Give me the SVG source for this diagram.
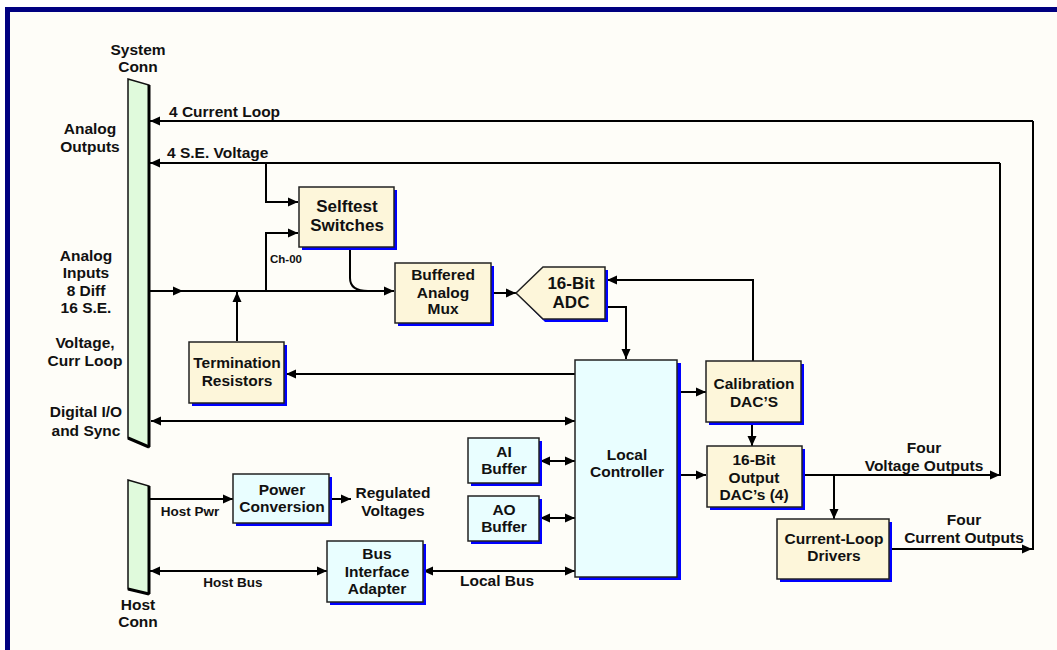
<svg xmlns="http://www.w3.org/2000/svg" width="1057" height="650" viewBox="0 0 1057 650">
<style>
text{font-family:"Liberation Sans",Arial,Helvetica,sans-serif;font-weight:bold;fill:#111;text-anchor:middle}
.t{font-size:15.5px}
.s{font-size:13.5px}
.xs{font-size:11.5px}
.l{font-size:17px}
.st{text-anchor:start}
.c{stroke:#000;stroke-width:2;fill:none}
.cream{fill:#FDF6DA;stroke:#222;stroke-width:1.5}
.cyan{fill:#E9FEFF;stroke:#222;stroke-width:1.5}
.green{fill:#E0FADC;stroke:#111;stroke-width:1.5}
.sh{fill:#0000FF}
</style>
<defs>
<marker id="a" markerUnits="userSpaceOnUse" markerWidth="10" markerHeight="10" refX="10" refY="5" orient="auto-start-reverse" viewBox="0 0 10 10">
<path d="M0,0.5 L10,5 L0,9.5 z" fill="#000"/>
</marker>
</defs>
<rect x="0" y="0" width="1057" height="650" fill="#FFFFFF"/>
<rect x="7.5" y="9.5" width="1200" height="800" fill="#FEFDF8" stroke="#000080" stroke-width="5"/>

<g id="connectors">
<path class="c" d="M1033,121 H150" marker-end="url(#a)"/>
<path class="c" d="M1000,163 H150" marker-end="url(#a)"/>
<path class="c" d="M266,163 V202 H298" marker-end="url(#a)"/>
<path class="c" d="M266,291 V233 H298" marker-end="url(#a)"/>
<path class="c" d="M149,291 H394" marker-end="url(#a)"/>
<polygon points="173,286.5 183,291 173,295.5" fill="#000"/>
<path class="c" d="M350,247 V278 Q350,291 368,291"/>
<path class="c" d="M237,341 V292" marker-end="url(#a)"/>
<path class="c" d="M491,293 H516" marker-end="url(#a)"/>
<path class="c" d="M606,307 H626 V359" marker-end="url(#a)"/>
<path class="c" d="M753,361 V280 H607" marker-end="url(#a)"/>
<path class="c" d="M575,374 H286" marker-end="url(#a)"/>
<path class="c" d="M151,421 H575" marker-start="url(#a)" marker-end="url(#a)"/>
<path class="c" d="M677,392 H706" marker-end="url(#a)"/>
<path class="c" d="M752,422 V446" marker-end="url(#a)"/>
<path class="c" d="M677,475 H706" marker-end="url(#a)"/>
<path class="c" d="M802,475 H1000 V163"/>
<path class="c" d="M990,475 H1000" marker-end="url(#a)"/>
<path class="c" d="M834,475 V519" marker-end="url(#a)"/>
<path class="c" d="M889,549 H1033 V121"/>
<path class="c" d="M1020,549 H1032" marker-end="url(#a)"/>
<path class="c" d="M540,461 H575" marker-start="url(#a)" marker-end="url(#a)"/>
<path class="c" d="M540,518 H575" marker-start="url(#a)" marker-end="url(#a)"/>
<path class="c" d="M149,499 H233" marker-end="url(#a)"/>
<path class="c" d="M329,499 H351" marker-end="url(#a)"/>
<path class="c" d="M150,571 H327" marker-start="url(#a)" marker-end="url(#a)"/>
<path class="c" d="M423,571 H575" marker-start="url(#a)" marker-end="url(#a)"/>
</g>

<g id="system-conn">
<polygon points="128,79 149,85 149,447 128,438" class="green"/>
<line x1="149" y1="85" x2="149" y2="447" stroke="#000" stroke-width="3"/>
<line x1="128" y1="438" x2="149" y2="447" stroke="#000" stroke-width="3"/>
<text class="t" x="138" y="55">System</text>
<text class="t" x="138" y="72">Conn</text>
</g>

<g id="host-conn">
<polygon points="128,480 149,486 149,594 128,589" class="green"/>
<line x1="149" y1="486" x2="149" y2="594" stroke="#000" stroke-width="3"/>
<line x1="128" y1="589" x2="149" y2="594" stroke="#000" stroke-width="3"/>
<text class="t" x="138" y="610">Host</text>
<text class="t" x="138" y="627">Conn</text>
</g>

<g id="side-labels">
<text class="t" x="90" y="134">Analog</text>
<text class="t" x="90" y="152">Outputs</text>
<text class="t" x="86" y="261">Analog</text>
<text class="t" x="86" y="278">Inputs</text>
<text class="t" x="86" y="296">8 Diff</text>
<text class="t" x="86" y="313">16 S.E.</text>
<text class="t" x="85" y="348">Voltage,</text>
<text class="t" x="85" y="366">Curr Loop</text>
<text class="t" x="86" y="417">Digital I/O</text>
<text class="t" x="86" y="436">and Sync</text>
</g>

<g id="conn-labels">
<text class="t st" x="169" y="117">4 Current Loop</text>
<text class="t st" x="167" y="158">4 S.E. Voltage</text>
<text class="xs st" x="270" y="263">Ch-00</text>
<text class="s" x="190" y="516">Host Pwr</text>
<text class="t" x="393" y="498">Regulated</text>
<text class="t" x="393" y="516">Voltages</text>
<text class="s" x="233" y="587">Host Bus</text>
<text class="t" x="497" y="586">Local Bus</text>
<text class="t" x="924" y="453">Four</text>
<text class="t" x="924" y="471">Voltage Outputs</text>
<text class="t" x="964" y="525">Four</text>
<text class="t" x="964" y="543">Current Outputs</text>
</g>

<g id="selftest">
<rect class="sh" x="302" y="190" width="95" height="60"/>
<rect class="cream" x="299" y="187" width="95" height="60"/>
<text class="l" x="347" y="212">Selftest</text>
<text class="l" x="347" y="231">Switches</text>
</g>

<g id="mux">
<rect class="sh" x="398" y="266" width="96" height="60"/>
<rect class="cream" x="395" y="263" width="96" height="60"/>
<text class="t" x="443" y="280">Buffered</text>
<text class="t" x="443" y="298">Analog</text>
<text class="t" x="443" y="314">Mux</text>
</g>

<g id="adc">
<polygon class="sh" points="519,296 545,270 608,270 608,322 545,322"/>
<polygon class="cream" points="516,293 543,267 605,267 605,319 543,319"/>
<text class="l" x="571" y="289">16-Bit</text>
<text class="l" x="571" y="308">ADC</text>
</g>

<g id="termination">
<rect class="sh" x="192" y="345" width="95" height="61"/>
<rect class="cream" x="189" y="342" width="95" height="61"/>
<text class="t" x="237" y="368">Termination</text>
<text class="t" x="237" y="386">Resistors</text>
</g>

<g id="controller">
<rect class="sh" x="579" y="363" width="102" height="217"/>
<rect class="cyan" x="575" y="360" width="102" height="217"/>
<text class="t" x="627" y="460">Local</text>
<text class="t" x="627" y="477">Controller</text>
</g>

<g id="ai-buffer">
<rect class="sh" x="471" y="441" width="71" height="45"/>
<rect class="cyan" x="468" y="438" width="71" height="45"/>
<text class="t" x="504" y="457">AI</text>
<text class="t" x="504" y="474">Buffer</text>
</g>

<g id="ao-buffer">
<rect class="sh" x="471" y="499" width="71" height="45"/>
<rect class="cyan" x="468" y="496" width="71" height="45"/>
<text class="t" x="504" y="515">AO</text>
<text class="t" x="504" y="532">Buffer</text>
</g>

<g id="calibration">
<rect class="sh" x="709" y="364" width="95" height="61"/>
<rect class="cream" x="706" y="361" width="95" height="61"/>
<text class="t" x="754" y="389">Calibration</text>
<text class="t" x="754" y="407">DAC’S</text>
</g>

<g id="output-dac">
<rect class="sh" x="710" y="449" width="95" height="61"/>
<rect class="cream" x="707" y="446" width="95" height="61"/>
<text class="t" x="754" y="465">16-Bit</text>
<text class="t" x="754" y="483">Output</text>
<text class="t" x="754" y="500">DAC’s (4)</text>
</g>

<g id="current-loop">
<rect class="sh" x="780" y="522" width="112" height="60"/>
<rect class="cream" x="777" y="519" width="112" height="60"/>
<text class="t" x="834" y="544">Current-Loop</text>
<text class="t" x="834" y="561">Drivers</text>
</g>

<g id="power">
<rect class="sh" x="236" y="477" width="96" height="49"/>
<rect class="cyan" x="233" y="474" width="96" height="49"/>
<text class="t" x="282" y="495">Power</text>
<text class="t" x="282" y="512">Conversion</text>
</g>

<g id="bus-interface">
<rect class="sh" x="330" y="544" width="96" height="61"/>
<rect class="cyan" x="327" y="541" width="96" height="61"/>
<text class="t" x="377" y="559">Bus</text>
<text class="t" x="377" y="577">Interface</text>
<text class="t" x="377" y="594">Adapter</text>
</g>
</svg>
